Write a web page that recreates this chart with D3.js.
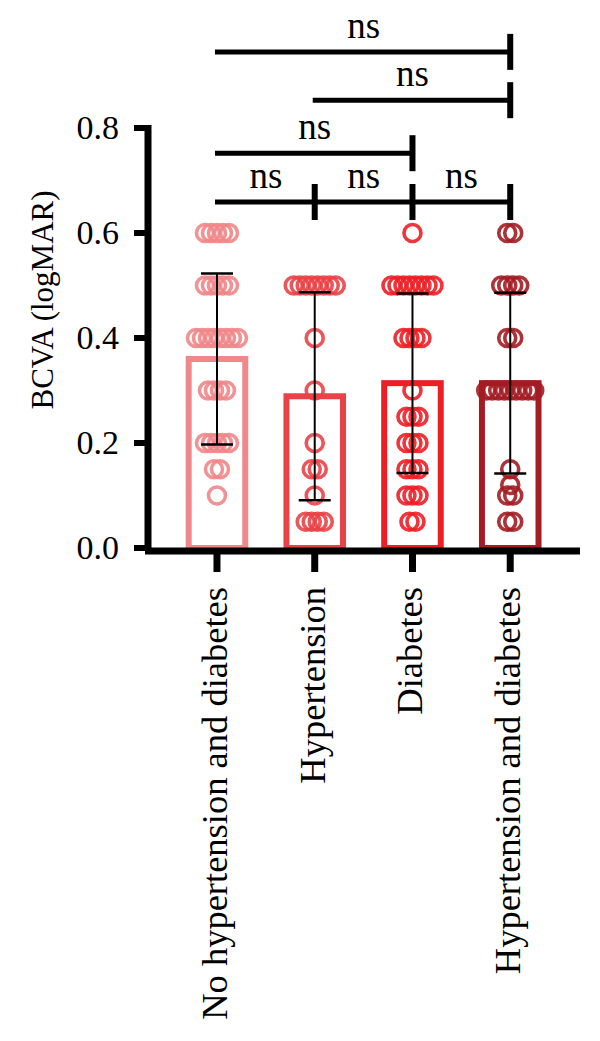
<!DOCTYPE html>
<meta charset="utf-8">
<script src="https://d3js.org/d3.v7.min.js"></script>
<style>
  body { margin: 0; background: white; }
  text { font-family: "Liberation Serif", "DejaVu Serif", serif; fill: black; }
</style>
<div id="chart"></div>
<script>
// data
var groups = ["No hypertension and diabetes", "Hypertension", "Diabetes", "Hypertension and diabetes"];
var colors = ["#f0878a", "#ea4247", "#ed1f26", "#a31d23"];
var means = [0.36, 0.289, 0.314, 0.314];
var sds = [0.163, 0.198, 0.171, 0.172];

// points per group as [value, count]
var pts0 = [[0.6, 5], [0.5, 5], [0.4, 8], [0.3, 4], [0.2, 5], [0.15, 2], [0.1, 1]];
var pts1 = [[0.5, 8], [0.4, 1], [0.3, 1], [0.2, 1], [0.15, 2], [0.1, 1], [0.05, 4]];
var pts2 = [[0.6, 1], [0.5, 8], [0.4, 4], [0.3, 1], [0.25, 3], [0.2, 3], [0.15, 3], [0.1, 3], [0.05, 2]];
var pts3 = [[0.6, 2], [0.5, 4], [0.4, 2], [0.3, 9], [0.15, 1], [0.12, 1], [0.1, 2], [0.05, 2]];
var points = [pts0, pts1, pts2, pts3];

var yTicks = [0.0, 0.2, 0.4, 0.6, 0.8];

// comparisons [from, to, level]
var comps = [[0, 3, 0.945], [1, 3, 0.853], [0, 2, 0.752], [0, 1, 0.659], [1, 2, 0.659], [2, 3, 0.659]];
var compLabel = "ns";

var W = 600, H = 1041;
var svg = d3.select("#chart").append("svg")
    .attr("width", W)
    .attr("height", H);

var x = d3.scaleBand()
    .domain(groups)
    .range([168.1, 559.1])
    .paddingInner(0.36)
    .paddingOuter(0.18);

var y = d3.scaleLinear()
    .domain([0, 0.8])
    .range([548, 128]);

var cx = function(i) { return x(groups[i]) + x.bandwidth() / 2; };

// bars
svg.selectAll(".bar")
  .data(means)
  .enter()
  .append("rect")
    .attr("class", "bar")
    .attr("x", function(d, i) { return x(groups[i]) + 3; })
    .attr("y", function(d) { return y(d); })
    .attr("width", x.bandwidth() - 6)
    .attr("height", function(d) { return y(0) - y(d); })
    .attr("fill", "none")
    .attr("stroke", function(d, i) { return colors[i]; })
    .attr("stroke-width", 6);

// scatter points
var spacing = 6;
points.forEach(function(rows, gi) {
  var flat = [];
  rows.forEach(function(r) {
    for (var k = 0; k < r[1]; k++) {
      flat.push({ v: r[0], off: (k - (r[1] - 1) / 2) * spacing });
    }
  });
  svg.append("g").selectAll("circle")
    .data(flat)
    .enter()
    .append("circle")
      .attr("cx", function(d) { return cx(gi) + d.off; })
      .attr("cy", function(d) { return y(d.v); })
      .attr("r", 8.5)
      .attr("fill", "none")
      .attr("stroke", colors[gi])
      .attr("stroke-width", 3.6)
      .attr("stroke-opacity", 0.9);
});

// error bars
var eb = svg.append("g").attr("stroke", "black").attr("stroke-width", 2);
means.forEach(function(m, i) {
  var top = y(m + sds[i]), bot = y(m - sds[i]);
  eb.append("line").attr("x1", cx(i)).attr("x2", cx(i)).attr("y1", top).attr("y2", bot);
  eb.append("line").attr("x1", cx(i) - 16).attr("x2", cx(i) + 16).attr("y1", top).attr("y2", top).attr("stroke-width", 2.5);
  eb.append("line").attr("x1", cx(i) - 16).attr("x2", cx(i) + 16).attr("y1", bot).attr("y2", bot).attr("stroke-width", 2.5);
});

// y axis
var yAxis = svg.append("g");
yAxis.append("line")
  .attr("x1", 148).attr("x2", 148)
  .attr("y1", y(0.8) - 3).attr("y2", y(0) + 3)
  .attr("stroke", "black").attr("stroke-width", 7);
yAxis.selectAll(".ytick")
  .data(yTicks)
  .enter()
  .append("line")
    .attr("x1", 134).attr("x2", 148)
    .attr("y1", function(d) { return y(d); })
    .attr("y2", function(d) { return y(d); })
    .attr("stroke", "black").attr("stroke-width", 6);
yAxis.selectAll(".ylab")
  .data(yTicks)
  .enter()
  .append("text")
    .attr("x", 119)
    .attr("y", function(d) { return y(d); })
    .attr("dy", "0.33em")
    .attr("text-anchor", "end")
    .style("font-size", "34px")
    .text(function(d) { return d3.format(".1f")(d); });

svg.append("text")
  .attr("transform", "translate(53,300)rotate(-90)")
  .attr("text-anchor", "middle")
  .style("font-size", "31px")
  .text("BCVA (logMAR)");

// x axis
var xAxis = svg.append("g");
xAxis.append("line")
  .attr("x1", 145).attr("x2", 580)
  .attr("y1", 551).attr("y2", 551)
  .attr("stroke", "black").attr("stroke-width", 7);
xAxis.selectAll(".xtick")
  .data(groups)
  .enter()
  .append("line")
    .attr("x1", function(d) { return x(d) + x.bandwidth() / 2; })
    .attr("x2", function(d) { return x(d) + x.bandwidth() / 2; })
    .attr("y1", 551).attr("y2", 572)
    .attr("stroke", "black").attr("stroke-width", 7);
xAxis.selectAll(".xlab")
  .data(groups)
  .enter()
  .append("text")
    .attr("transform", function(d) { return "translate(" + (x(d) + x.bandwidth() / 2 + 10) + ",587)rotate(-90)"; })
    .attr("text-anchor", "end")
    .style("font-size", "36.5px")
    .text(function(d) { return d; });

// significance brackets
var br = svg.append("g");
comps.forEach(function(c) {
  var x1 = cx(c[0]), x2 = cx(c[1]), ly = y(c[2]);
  br.append("line").attr("x1", x1 - 2).attr("x2", x2).attr("y1", ly).attr("y2", ly)
    .attr("stroke", "black").attr("stroke-width", 5);
  br.append("line").attr("x1", x2).attr("x2", x2).attr("y1", ly - 18).attr("y2", ly + 18)
    .attr("stroke", "black").attr("stroke-width", 6);
  br.append("text")
    .attr("x", (x1 + x2) / 2)
    .attr("y", ly - 14)
    .attr("text-anchor", "middle")
    .style("font-size", "37px")
    .text(compLabel);
});
</script>
